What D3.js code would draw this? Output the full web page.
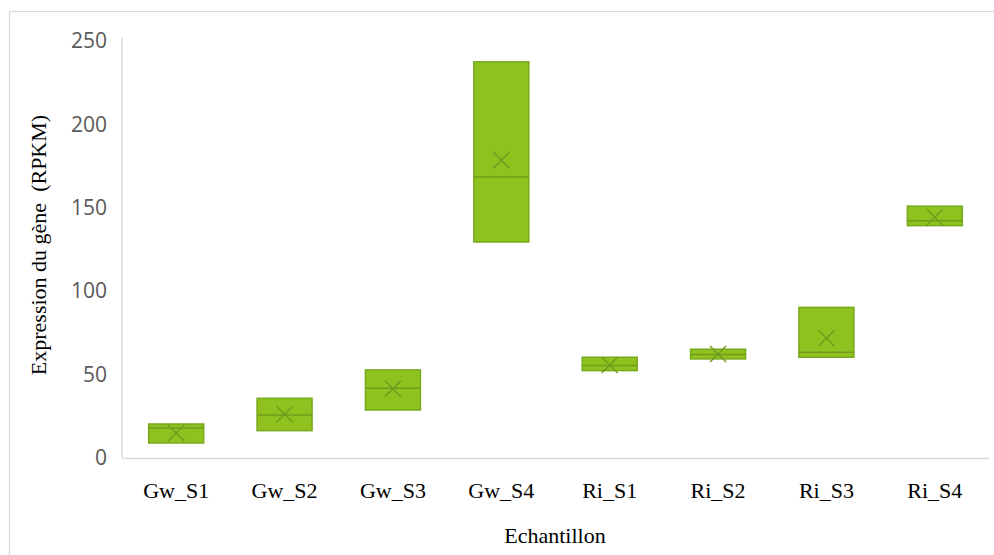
<!DOCTYPE html>
<html>
<head>
<script src="https://d3js.org/d3.v7.min.js"></script>
<title>Expression du gène</title>
<style>
body {margin:0; background:#fff;}
</style>
</head>
<body>
<div id="myDiv"></div>
<script>
// data
var samples = ["Gw_S1","Gw_S2","Gw_S3","Gw_S4","Ri_S1","Ri_S2","Ri_S3","Ri_S4"];
var q1     = [9, 16.4, 28.8, 129.5, 52.4, 59.4, 60.4, 139.3];
var median = [18, 25.8, 41.8, 168.5, 55.5, 62, 63.4, 142.3];
var q3     = [20.4, 35.8, 52.8, 237.5, 60.4, 65.2, 90.3, 151];
var mean   = [15, 26.2, 41.5, 178.5, 55.8, 62.3, 71.8, 144.3];
var yTicks = [0, 50, 100, 150, 200, 250];

var data = samples.map(function(s, i) {
	return {name: s, q1: q1[i], med: median[i], q3: q3[i], mean: mean[i]};
});

var width = 994, height = 555;
var mLeft = 122, mRight = 989, mTop = 41, mBottom = 458;

var svg = d3.select("#myDiv").append("svg")
	.attr("width", width)
	.attr("height", height);

// chart border
svg.append("rect")
	.attr("x", 9.5).attr("y", 11.5)
	.attr("width", 1000).attr("height", 600)
	.attr("fill", "none")
	.attr("stroke", "#d9d9d9")
	.attr("stroke-width", 1.2);

var x = d3.scaleBand()
	.domain(samples)
	.range([mLeft, mRight]);

var y = d3.scaleLinear()
	.domain([0, 250])
	.range([mBottom, mTop]);

// y axis
var yaxis = d3.axisLeft(y).tickValues(yTicks).tickSize(0).tickPadding(15);
var gy = svg.append("g")
	.attr("transform", "translate(" + mLeft + ",0)")
	.call(yaxis);
gy.select(".domain").attr("stroke", "#d9d9d9").attr("stroke-width", 1.5)
	.attr("d", "M0," + (mTop - 3) + "V" + mBottom);
gy.selectAll("text")
	.attr("fill", "#595959")
	.style("font-family", "'Open Sans', sans-serif")
	.style("font-size", "21px");

// x axis
var xaxis = d3.axisBottom(x).tickSize(0).tickPadding(24);
var gx = svg.append("g")
	.attr("transform", "translate(0," + mBottom + ")")
	.call(xaxis);
gx.select(".domain").attr("stroke", "#d9d9d9").attr("stroke-width", 1.5);
gx.selectAll("text")
	.attr("fill", "#000")
	.style("font-family", "'Liberation Serif', serif")
	.style("font-size", "22px");

var boxW = 55;
var boxes = svg.selectAll(".box").data(data).enter()
	.append("g").attr("class", "box")
	.attr("transform", function(d) { return "translate(" + (x(d.name) + x.bandwidth() / 2) + ",0)"; });

boxes.append("rect")
	.attr("x", -boxW / 2)
	.attr("y", function(d) { return y(d.q3); })
	.attr("width", boxW)
	.attr("height", function(d) { return y(d.q1) - y(d.q3); })
	.attr("fill", "#8fc21f")
	.attr("stroke", "#78a81c")
	.attr("stroke-width", 1.5);

boxes.append("line")
	.attr("x1", -boxW / 2).attr("x2", boxW / 2)
	.attr("y1", function(d) { return y(d.med); })
	.attr("y2", function(d) { return y(d.med); })
	.attr("stroke", "#6f9c1d")
	.attr("stroke-width", 1.5);

// mean marker
boxes.append("path")
	.attr("d", function(d) {
		var c = y(d.mean), s = 8;
		return "M" + (-s) + "," + (c - s) + "L" + s + "," + (c + s) +
			"M" + s + "," + (c - s) + "L" + (-s) + "," + (c + s);
	})
	.attr("stroke", "#6f9c1d")
	.attr("stroke-width", 1.5)
	.attr("fill", "none");

// axis titles
svg.append("text")
	.attr("x", 555)
	.attr("y", 543)
	.attr("text-anchor", "middle")
	.style("font-family", "'Liberation Serif', serif")
	.style("font-size", "22px")
	.text("Echantillon");

svg.append("text")
	.attr("transform", "translate(46,245) rotate(-90)")
	.attr("text-anchor", "middle")
	.style("font-family", "'Liberation Serif', serif")
	.style("font-size", "22px")
	.style("white-space", "pre")
	.text("Expression du gène  (RPKM)");
</script>
</body>
</html>
